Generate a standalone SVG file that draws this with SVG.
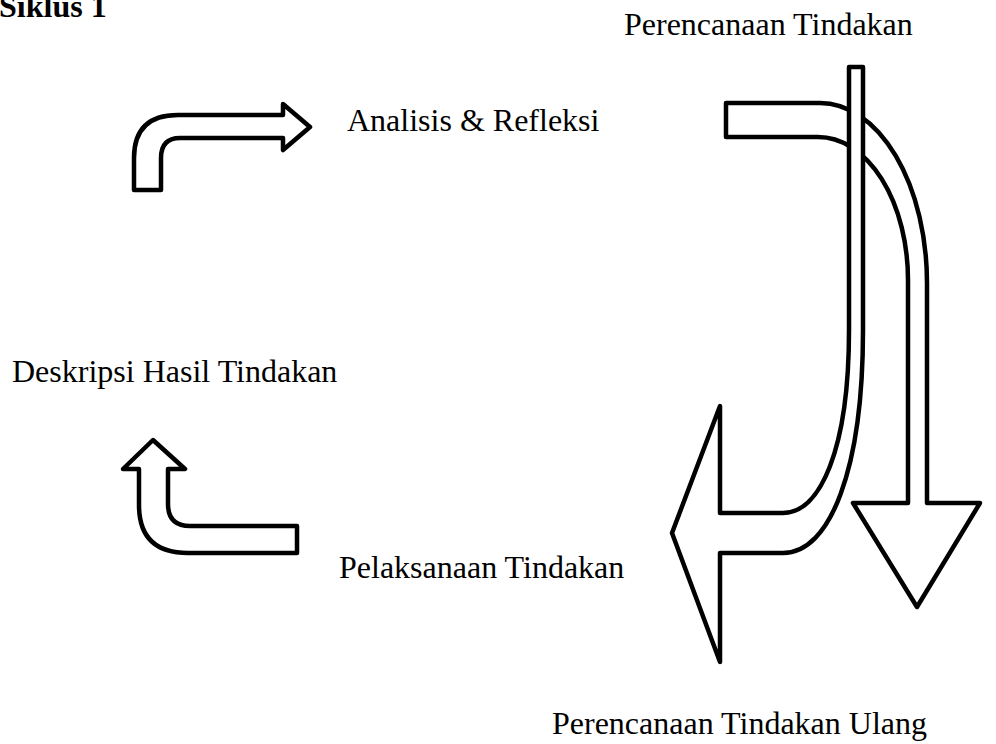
<svg xmlns="http://www.w3.org/2000/svg" width="996" height="744" viewBox="0 0 996 744">
<style>
.a{fill:#fff;stroke:#000;stroke-width:4.5;stroke-linejoin:round}
.t{font-family:"Liberation Serif","Times New Roman",serif;font-size:32px;fill:#000}
.b{font-weight:bold}
</style>
<rect width="996" height="744" fill="#fff"/>
<g id="title"><text class="t b" x="-1" y="17">Siklus 1</text></g>
<g id="label-perencanaan"><text class="t" x="624" y="35">Perencanaan Tindakan</text></g>
<g id="label-analisis"><text class="t" x="347" y="131">Analisis &amp; Refleksi</text></g>
<g id="label-deskripsi"><text class="t" x="12" y="382">Deskripsi Hasil Tindakan</text></g>
<g id="label-pelaksanaan"><text class="t" x="339" y="578">Pelaksanaan Tindakan</text></g>
<g id="label-ulang"><text class="t" x="552" y="734">Perencanaan Tindakan Ulang</text></g>
<g id="connectors">
<path id="arrow-analisis" class="a" d="M134,190 L134,158 Q134,115 178,115 L283,115 L283,104 L310,127 L283,150 L283,138 L180,138 Q161,138 161,158 L161,190 Z"/>
<path id="arrow-deskripsi" class="a" d="M153,440 L185,469 L168,469 L168,504 Q168,526 190,526 L297,526 L297,553 L188,553 Q139,553 139,505 L139,469 L123,469 Z"/>
<path id="arrow-down" class="a" d="M726,103 L820,103 A107,180 0 0 1 927,283 L927,503 L980,503 L917,607 L853,503 L908,503 L908,280 A90,143 0 0 0 818,137 L726,137 Z"/>
<path id="arrow-left" class="a" d="M849,67 L863,67 L863,330 C863,470 830,553 783,553 L720,553 L720,662 L672,533 L720,406 L720,513 L783,513 C820,513 849,450 849,330 Z"/>
</g>
</svg>
